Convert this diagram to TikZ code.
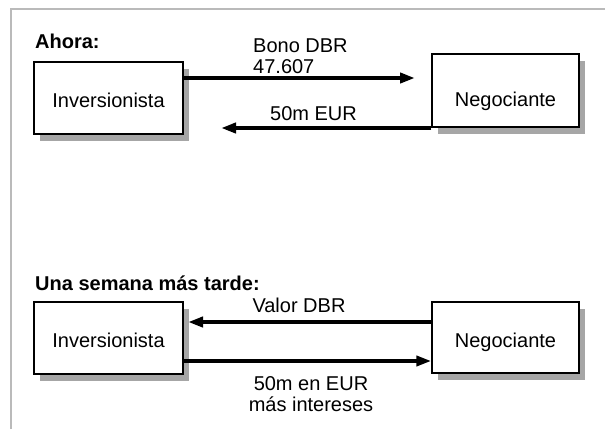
\documentclass[tikz,border=0pt]{standalone}
\usepackage{fontspec}
\setmainfont{Liberation Sans}
\usetikzlibrary{arrows.meta, positioning, shadows}
\colorlet{frameline}{black!27}
\colorlet{boxshadow}{black!35}

\begin{document}
\begin{tikzpicture}[x=1pt, y=-1pt,
  party/.style={draw, line width=1.4pt, fill=white, minimum width=149pt, minimum height=72pt,
    inner sep=0pt, text height=18pt, text depth=0pt, font=\fontsize{20}{24}\selectfont,
    drop shadow={shadow xshift=6pt, shadow yshift=-7pt, fill=boxshadow, opacity=1}},
  flow/.style={line width=4pt, -{Triangle[length=15pt, width=10pt]}},
  lbl/.style={font=\fontsize{20}{20.5}\selectfont, inner sep=0pt},
  head/.style={font=\bfseries\fontsize{20}{24}\selectfont, inner sep=0pt}]
  \useasboundingbox (0,0) rectangle (605,429);
  % frame
  \draw[frameline, line width=1.5pt] (11,429) -- (11,9) -- (605,9);
  % 1. Ahora
  \node[head, anchor=base west] (now) at (35,48) {Ahora:};
  \node[party] (inv1) at (108.5,98) {Inversionista};
  \node[party, minimum width=147pt, minimum height=73pt, text height=32pt] (deal1) at (505.5,90.5) {Negociante};
  \coordinate (bondTip) at (415,78);
  \coordinate (cashTip) at (221,128);
  \draw[flow] (inv1.east |- bondTip) -- (bondTip);
  \draw[flow] (deal1.west |- cashTip) -- (cashTip);
  \node[lbl, anchor=base west, align=left] (bond) at (253,73) {Bono DBR\\47.607};
  \node[lbl, anchor=base] (cash) at (313.5,120.5) {50m EUR};
  % 2. Una semana mas tarde
  \node[head, anchor=base west] (later) at (35,290) {Una semana más tarde:};
  \node[party] (inv2) at (108.5,338) {Inversionista};
  \node[party, minimum width=147pt, minimum height=71pt, text height=20pt] (deal2) at (505.5,337.5) {Negociante};
  \coordinate (valueTip) at (188,322);
  \draw[flow] (deal2.west |- valueTip) -- (valueTip);
  \draw[flow] ([yshift=-23pt]inv2.east) -- ([yshift=-23.5pt]deal2.west);
  \node[lbl, anchor=base] (value) at (299,312) {Valor DBR};
  \node[lbl, anchor=base, align=center] (repay) at (311,411) {50m en EUR\\más intereses};
\end{tikzpicture}
\end{document}
